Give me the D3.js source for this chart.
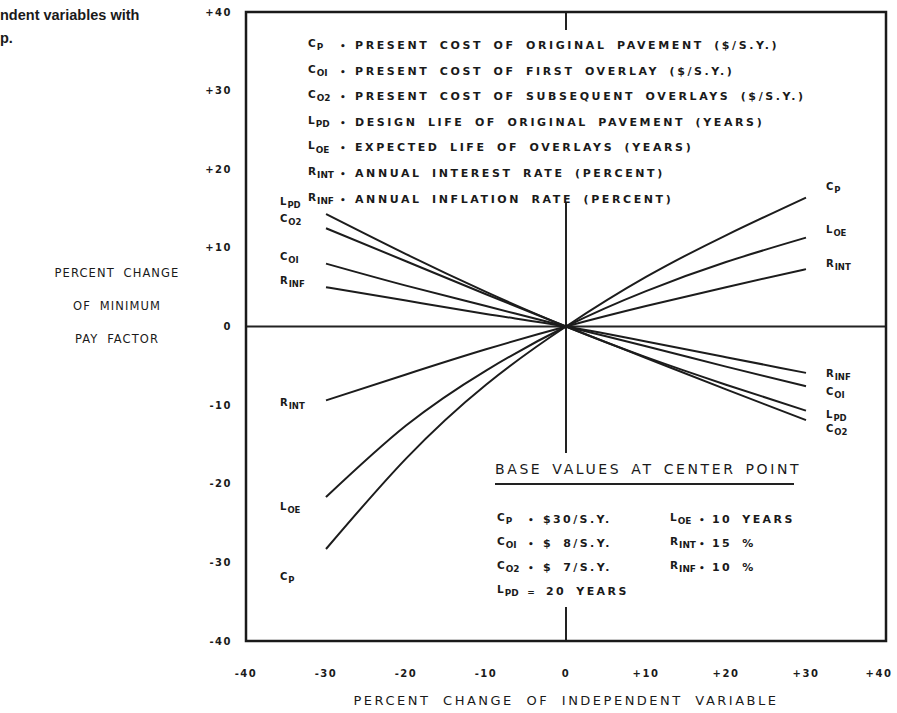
<!DOCTYPE html>
<html><head><meta charset="utf-8">
<script src="https://cdn.jsdelivr.net/npm/d3@7"></script>
<style>
html,body{margin:0;padding:0;background:#fff;}
svg{display:block;}
text{font-family:"DejaVu Sans",sans-serif;font-weight:bold;fill:#1a1a1a;}
</style></head>
<body>
<script>
// ---- data ----
const xPoints = [-30, -20, -10, 0, 10, 20, 30];
const seriesNames = ["Cp", "LOE", "RINT", "RINF", "CO1", "LPD", "CO2"];
const valCp   = [-28.3, -16.8, -7.4, 0, 6.3, 11.6, 16.4];
const valLOE  = [-21.7, -12.6, -5.6, 0, 4.5, 8.2, 11.3];
const valRINT = [-9.4, -6.1, -2.9, 0, 2.6, 5.0, 7.3];
const valRINF = [5.0, 3.3, 1.6, 0, -1.9, -3.9, -5.9];
const valCO1  = [8.0, 5.2, 2.6, 0, -2.5, -5.1, -7.6];
const valLPD  = [14.3, 9.2, 4.4, 0, -3.9, -7.4, -10.7];
const valCO2  = [12.5, 8.3, 4.1, 0, -4.0, -8.0, -11.9];
const yTicks = [40, 30, 20, 10, 0, -10, -20, -30, -40];
const xTicks = [-40, -30, -20, -10, 0, 10, 20, 30, 40];
const yTickLabels = ["+40", "+30", "+20", "+10", "0", "-10", "-20", "-30", "-40"];
const xTickLabels = ["-40", "-30", "-20", "-10", "0", "+10", "+20", "+30", "+40"];
const legendSymbols = [["C","P"],["C","OI"],["C","O2"],["L","PD"],["L","OE"],["R","INT"],["R","INF"]];
const legendTexts = [
  "PRESENT COST OF ORIGINAL PAVEMENT ($/S.Y.)",
  "PRESENT COST OF FIRST OVERLAY ($/S.Y.)",
  "PRESENT COST OF SUBSEQUENT OVERLAYS ($/S.Y.)",
  "DESIGN LIFE OF ORIGINAL PAVEMENT (YEARS)",
  "EXPECTED LIFE OF OVERLAYS (YEARS)",
  "ANNUAL INTEREST RATE (PERCENT)",
  "ANNUAL INFLATION RATE (PERCENT)"
];
const baseLeft = [[["C","P"],"$30/S.Y."],[["C","OI"],"$ 8/S.Y."],[["C","O2"],"$ 7/S.Y."],[["L","PD"],"20 YEARS"]];
const baseRight = [[["L","OE"],"10 YEARS"],[["R","INT"],"15 %"],[["R","INF"],"10 %"]];
const series = [
  {name:"Cp", sym:["C","P"], v:valCp},
  {name:"LOE", sym:["L","OE"], v:valLOE},
  {name:"RINT", sym:["R","INT"], v:valRINT},
  {name:"RINF", sym:["R","INF"], v:valRINF},
  {name:"CO1", sym:["C","OI"], v:valCO1},
  {name:"LPD", sym:["L","PD"], v:valLPD},
  {name:"CO2", sym:["C","O2"], v:valCO2}
];

// ---- chart ----
const W = 897, H = 713;
const svg = d3.select("body").append("svg").attr("width", W).attr("height", H);
const x = d3.scaleLinear().domain([-40, 40]).range([246, 886]);
const y = d3.scaleLinear().domain([-40, 40]).range([641, 12]);

// caption fragment
svg.append("text").attr("x", 0).attr("y", 20).style("font-family", "'Liberation Sans', Arial, sans-serif")
  .style("font-size", "14.5px").text("ndent variables with");
svg.append("text").attr("x", 0).attr("y", 43).style("font-family", "'Liberation Sans', Arial, sans-serif")
  .style("font-size", "14.5px").text("p.");

// axes lines through zero
svg.append("line").attr("x1", x(-40)).attr("x2", x(40)).attr("y1", y(0)).attr("y2", y(0))
  .attr("stroke", "#222").attr("stroke-width", 2);
svg.append("line").attr("x1", x(0)).attr("x2", x(0)).attr("y1", y(40)).attr("y2", y(-40))
  .attr("stroke", "#222").attr("stroke-width", 2);

// knock-out of the vertical axis behind legend and base-values block
svg.append("rect").attr("x", x(0) - 6).attr("y", 30).attr("width", 12).attr("height", 172).attr("fill", "#fff");
svg.append("rect").attr("x", x(0) - 6).attr("y", 453).attr("width", 12).attr("height", 154).attr("fill", "#fff");

// series lines
const line = d3.line().x((d, i) => x(xPoints[i])).y(d => y(d)).curve(d3.curveNatural);
svg.selectAll("path.s").data(series).enter().append("path").attr("class", "s")
  .attr("d", d => line(d.v)).attr("fill", "none").attr("stroke", "#1c1c1c").attr("stroke-width", 2);

// frame
svg.append("rect").attr("x", x(-40)).attr("y", y(40)).attr("width", x(40) - x(-40)).attr("height", y(-40) - y(40))
  .attr("fill", "none").attr("stroke", "#1a1a1a").attr("stroke-width", 2.5);

// y ticks
svg.selectAll("text.yt").data(yTicks).enter().append("text").attr("class", "yt")
  .attr("x", 232).attr("y", d => y(d)).attr("dy", "0.35em").attr("text-anchor", "end")
  .style("font-size", "10px").style("letter-spacing", "1.5px")
  .text((d, i) => yTickLabels[i]);
// x ticks
svg.selectAll("text.xt").data(xTicks).enter().append("text").attr("class", "xt")
  .attr("x", d => Math.min(x(d), 879)).attr("y", 677).attr("text-anchor", "middle")
  .style("font-size", "10px").style("letter-spacing", "1.5px")
  .text((d, i) => xTickLabels[i]);

// axis titles
svg.append("text").attr("x", 566).attr("y", 705).attr("text-anchor", "middle")
  .style("font-size", "13px").style("font-weight", "normal").style("letter-spacing", "2.5px").style("word-spacing", "6px")
  .text("PERCENT CHANGE OF INDEPENDENT VARIABLE");
["PERCENT CHANGE", "OF MINIMUM", "PAY FACTOR"].forEach((t, i) => {
  svg.append("text").attr("x", 117).attr("y", 277 + i * 33).attr("text-anchor", "middle")
    .style("font-size", "11.5px").style("font-weight", "normal").style("letter-spacing", "1.1px").style("word-spacing", "4px")
    .text(t);
});

// symbol label helper: main letter + subscript
function sym(g, s, px, py, size) {
  size = size || 10.5;
  const t = g.append("text").attr("x", px).attr("y", py).style("font-size", size + "px");
  t.append("tspan").text(s[0]);
  t.append("tspan").attr("dy", size * 0.3).attr("dx", 1).style("font-size", (size * 0.85) + "px").text(s[1]);
  return t;
}

// legend
const lg = svg.append("g");
legendSymbols.forEach((s, i) => {
  const yy = 49 + i * 25.6;
  sym(lg, s, 308, yy - 2, 10.5);
  lg.append("text").attr("x", 343).attr("y", yy).attr("text-anchor", "middle").style("font-size", "9px").text("•");
  lg.append("text").attr("x", 355).attr("y", yy).style("font-size", "11px")
    .style("letter-spacing", "2.6px").style("word-spacing", "4px").text(legendTexts[i]);
});

// end labels
const leftLabelY = {LPD: 207, CO2: 224, CO1: 262, RINF: 286, RINT: 408, LOE: 512, Cp: 582};
const rightLabelY = {Cp: 192, LOE: 235, RINT: 269, RINF: 379, CO1: 397, LPD: 420, CO2: 434};
const endG = svg.append("g");
series.forEach(s => {
  sym(endG, s.sym, 280, leftLabelY[s.name] - 2, 10);
  sym(endG, s.sym, 826, rightLabelY[s.name] - 2, 10);
});

// base values box
const bg = svg.append("g");
bg.append("text").attr("x", 495).attr("y", 474).style("font-size", "14px").style("font-weight", "normal")
  .style("letter-spacing", "2.6px").style("word-spacing", "3px").text("BASE VALUES AT CENTER POINT");
bg.append("line").attr("x1", 495).attr("x2", 794).attr("y1", 484).attr("y2", 484).attr("stroke", "#222").attr("stroke-width", 2);
baseLeft.forEach((r, i) => {
  const yy = 523 + i * 24;
  sym(bg, r[0], 497, yy - 2, 10.5);
  bg.append("text").attr("x", 531).attr("y", yy).attr("text-anchor", "middle").style("font-size", "9px").text(i === 3 ? "=" : "•");
  bg.append("text").attr("x", i === 3 ? 546 : 543).attr("y", yy).style("font-size", "11px").style("letter-spacing", "2.4px").style("word-spacing", "4px").text(r[1]);
});
baseRight.forEach((r, i) => {
  const yy = 523 + i * 24;
  sym(bg, r[0], 670, yy - 2, 10.5);
  bg.append("text").attr("x", 702).attr("y", yy).attr("text-anchor", "middle").style("font-size", "9px").text("•");
  bg.append("text").attr("x", 712).attr("y", yy).style("font-size", "11px").style("letter-spacing", "2.4px").style("word-spacing", "4px").text(r[1]);
});
</script>
</body></html>
